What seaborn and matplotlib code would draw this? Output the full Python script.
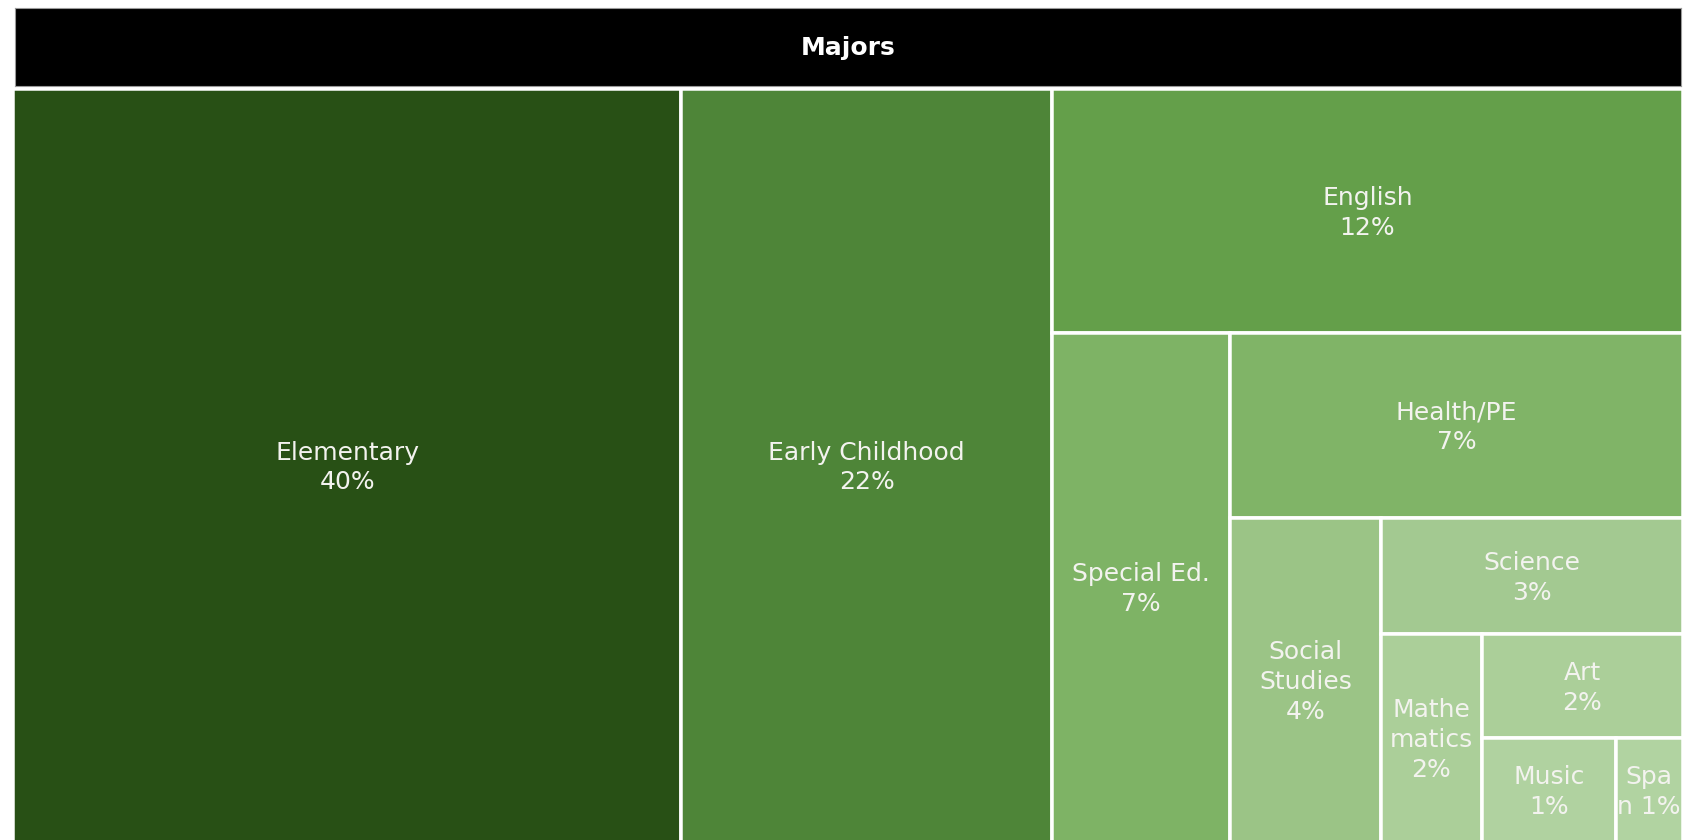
import matplotlib
matplotlib.use("Agg")
import matplotlib.pyplot as plt
from matplotlib.patches import Rectangle
import seaborn as sns

# Number of students per major
majors = ["Elementary", "Early Childhood", "English", "Special Ed.", "Health/PE",
          "Social Studies", "Science", "Mathematics", "Art", "Music", "Span"]
students = [72, 40, 22, 13, 12, 7, 5, 3, 3, 2, 1]

# Labels as they are wrapped inside the narrower cells
wrapped = {
    "Social Studies": "Social\nStudies\n{p}%",
    "Mathematics": "Mathe\nmatics\n{p}%",
    "Span": "Spa\nn {p}%",
}

# Green shades, darkest for the largest group
shades = ["#285015", "#4e8538", "#649f4a", "#7eb365", "#80b467", "#9bc486",
          "#a3c991", "#abcf99", "#abcf99", "#b0d2a0", "#b1d3a1"]

title = "Majors"

sns.set_theme(style="white")
plt.rcParams["font.family"] = ["DejaVu Sans"]

W_PX, H_PX = 1693, 840
fig = plt.figure(figsize=(W_PX / 100, H_PX / 100), dpi=100)
fig.patch.set_facecolor("white")


def fig_box(x0, y0, x1, y1):
    """Pixel box (top-left origin) -> figure fraction [left, bottom, width, height]."""
    return [x0 / W_PX, 1 - y1 / H_PX, (x1 - x0) / W_PX, (y1 - y0) / H_PX]


# Header bar
hax = fig.add_axes(fig_box(15, 7.5, 1681, 86))
hax.set_facecolor("black")
for s in hax.spines.values():
    s.set_visible(True)
    s.set_color("#9a9a9a")
    s.set_linewidth(0.8)
hax.set_xticks([])
hax.set_yticks([])
hax.text(0.5, 0.49, title, transform=hax.transAxes, ha="center", va="center",
         color="white", fontsize=18, fontweight="bold")

# Treemap area
gap = 3.5
x0, y0, x1, y1 = 15 - gap / 2, 90.7 - gap / 2, 1681 + gap / 2, 842
ax = fig.add_axes(fig_box(x0, y0, x1, y1))
W, H = x1 - x0, y1 - y0
ax.set_xlim(0, W)
ax.set_ylim(H, 0)
ax.axis("off")


def strip_layout(values, x, y, w, h):
    """Each item in turn takes a strip across the shorter side of what is left."""
    rects = []
    remaining = float(sum(values))
    for i, v in enumerate(values):
        if i == len(values) - 1:
            rects.append((x, y, w, h))
            break
        if w >= h:
            sw = w * v / remaining
            rects.append((x, y, sw, h))
            x, w = x + sw, w - sw
        else:
            sh = h * v / remaining
            rects.append((x, y, w, sh))
            y, h = y + sh, h - sh
        remaining -= v
    return rects


total = sum(students)
cells = strip_layout(students, 0, 0, W, H)
for name, val, col, (rx, ry, rw, rh) in zip(majors, students, shades, cells):
    ax.add_patch(Rectangle((rx, ry), rw, rh, facecolor=col, edgecolor="white",
                           linewidth=gap * 72 / 100))
    pct = round(100 * val / total)
    label = wrapped.get(name, name + "\n{p}%").format(p=pct)
    ax.text(rx + rw / 2, ry + rh / 2 + 2, label, ha="center", va="center",
            multialignment="center", color="#f3f3ef", fontsize=18,
            linespacing=1.3)

fig.savefig("out.png", dpi=100, facecolor="white")
